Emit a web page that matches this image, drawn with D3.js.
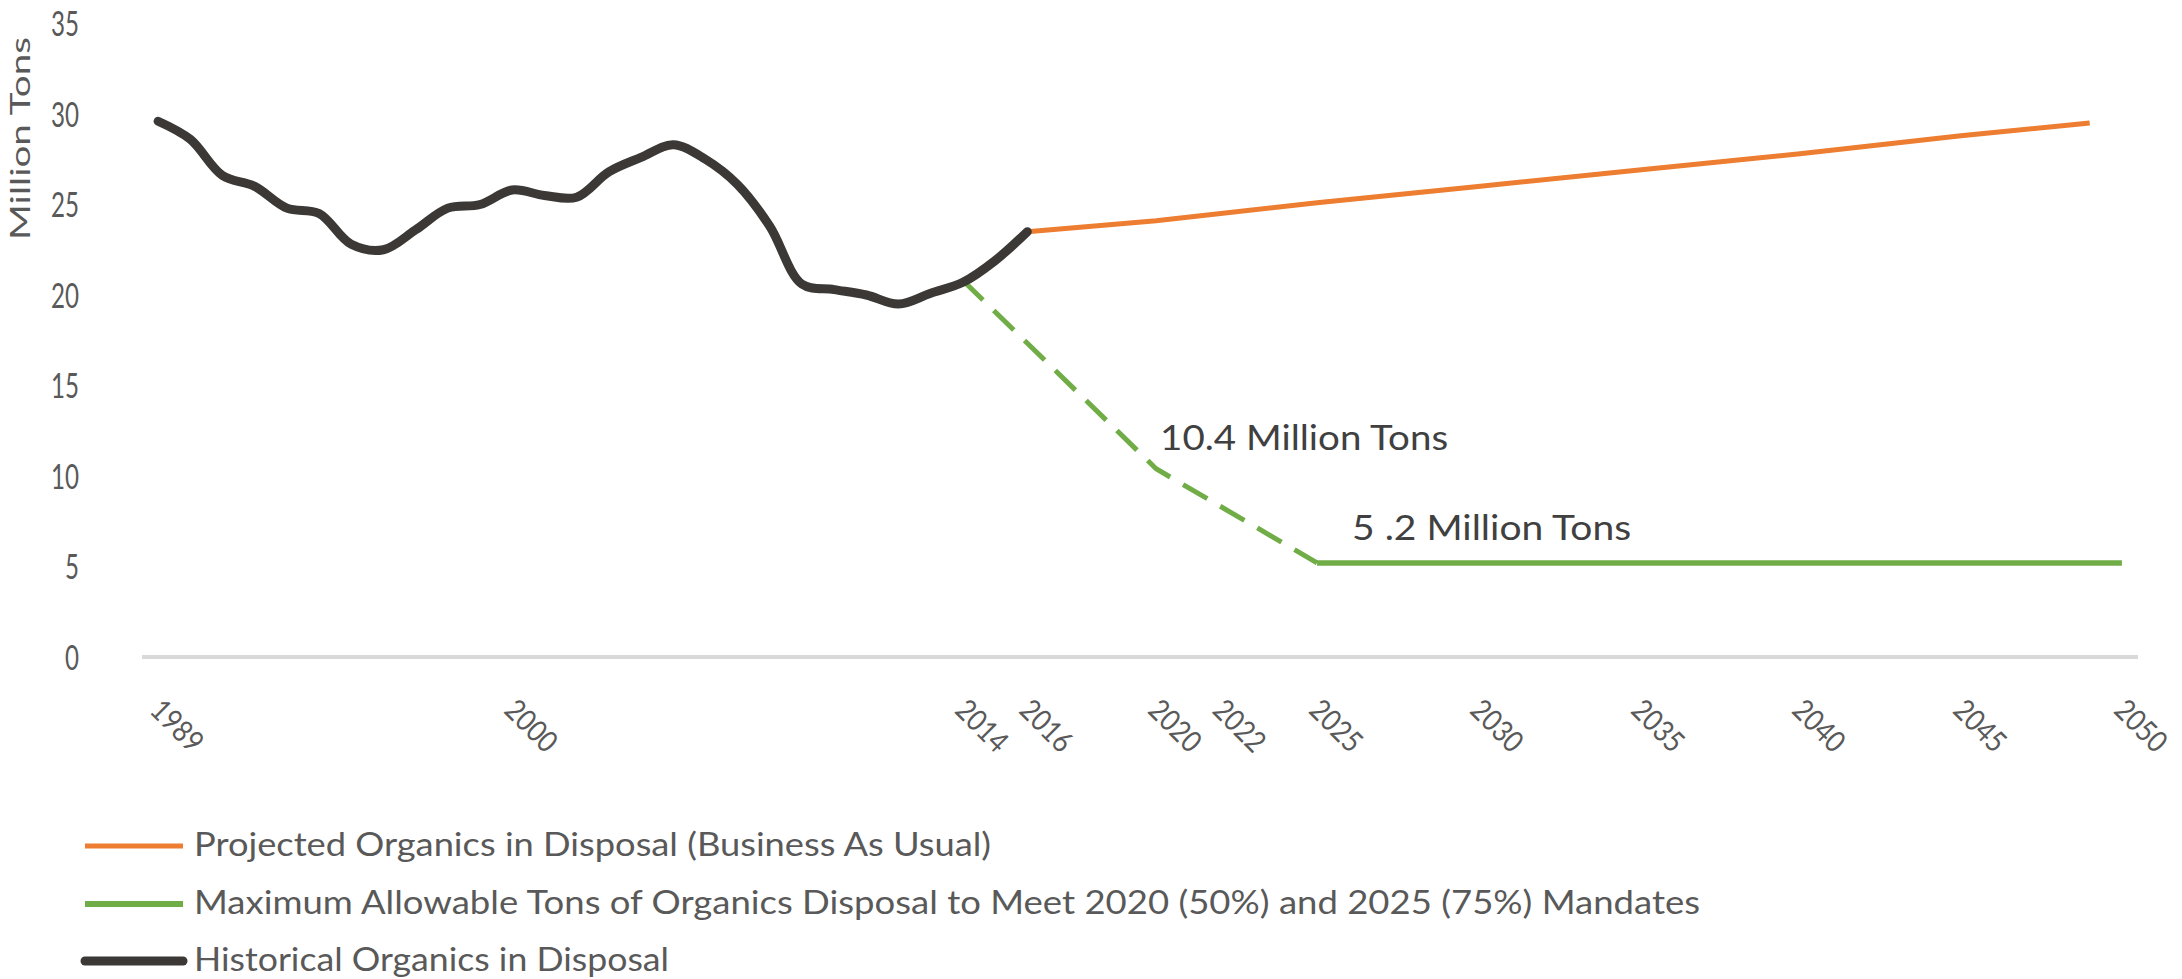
<!DOCTYPE html>
<html><head><meta charset="utf-8">
<script src="https://cdn.jsdelivr.net/npm/d3@7"></script>
<style>body{margin:0;background:#fff}svg{display:block;background:#fff}</style>
</head><body>
<svg id="chart" width="2182" height="979"></svg>
<script>
// ---- data ----
const years = d3.range(1989, 2051);
const xTickYears = [1989, 2000, 2014, 2016, 2020, 2022, 2025, 2030, 2035, 2040, 2045, 2050];
const yTicks = [0, 5, 10, 15, 20, 25, 30, 35];
const histYears = [1989,1990,1991,1992,1993,1994,1995,1996,1997,1998,1999,2000,2001,2002,2003,2004,2005,2006,2007,2008,2009,2010,2011,2012,2013,2014,2015,2016];
const histValues = [29.6,28.6,26.6,26.0,24.8,24.5,22.8,22.5,23.6,24.8,25.0,25.8,25.5,25.4,26.8,27.6,28.3,27.5,26.1,23.8,20.6,20.3,20.0,19.5,20.1,20.7,21.9,23.5];
const projYears = [2016, 2020, 2025, 2030, 2035, 2040, 2045, 2049];
const projValues = [23.5, 24.1, 25.1, 26.0, 26.9, 27.8, 28.8, 29.5];
const mandYears = [2014, 2020, 2025, 2050];
const mandValues = [20.8, 10.4, 5.2, 5.2];
const annoYears = [2020, 2025];
const annoValues = [10.4, 5.2];
const annoTexts = ["10.4 Million Tons", "5 .2 Million Tons"];
const legendLabels = [
  "Projected Organics in Disposal (Business As Usual)",
  "Maximum Allowable Tons of Organics Disposal to Meet 2020 (50%) and 2025 (75%) Mandates",
  "Historical Organics in Disposal"
];
const yTitle = "Million Tons";

// ---- styles ----
const FONT = "Lato, 'Open Sans', sans-serif";
const cOrange = "#ED7D31", cGreen = "#70AD47", cBlack = "#3B3836";
const cText = "#595959";

const svg = d3.select("#chart");
const x = d3.scalePoint().domain(years).range([142, 2138]).padding(0.5);
const y = d3.scaleLinear().domain([0, 35]).range([657, 23.5]);

// y axis
const gy = svg.append("g").attr("transform", "translate(79,0)")
  .call(d3.axisLeft(y).tickValues(yTicks).tickSize(0).tickPadding(0));
gy.select(".domain").remove();
gy.selectAll("text")
  .attr("x", 0).attr("dy", "0.36em")
  .attr("text-anchor", "end")
  .attr("font-family", FONT).attr("font-size", 34).attr("fill", cText)
  .attr("textLength", d => String(d).length * 14)
  .attr("lengthAdjust", "spacingAndGlyphs");

// y title
svg.append("text")
  .attr("transform", "translate(29.5,138.5) rotate(-90)")
  .attr("text-anchor", "middle")
  .attr("font-family", FONT).attr("font-size", 27).attr("fill", cText)
  .attr("textLength", 203).attr("lengthAdjust", "spacingAndGlyphs")
  .text(yTitle);

// x axis
const gx = svg.append("g").attr("transform", "translate(0,657)")
  .call(d3.axisBottom(x).tickValues(xTickYears).tickSize(0).tickPadding(0));
gx.select(".domain").remove();
gx.append("line").attr("x1", x.range()[0]).attr("x2", x.range()[1])
  .attr("y1", 0).attr("y2", 0).attr("stroke", "#D9D9D9").attr("stroke-width", 4);
gx.selectAll(".tick text")
  .attr("x", 0).attr("y", 0).attr("dy", 0)
  .attr("text-anchor", "start")
  .attr("transform", "translate(-10,55) rotate(45)")
  .attr("font-family", FONT).attr("font-size", 30).attr("fill", cText)
  .attr("textLength", 60).attr("lengthAdjust", "spacingAndGlyphs");

// series
const toPts = (ys, vs) => ys.map((yr, i) => ({year: yr, value: vs[i]}));
const lineStraight = d3.line().x(d => x(d.year)).y(d => y(d.value));
const lineSmooth = d3.line().x(d => x(d.year)).y(d => y(d.value)).curve(d3.curveCatmullRom.alpha(0.5));

svg.append("path").datum(toPts(projYears, projValues))
  .attr("d", lineStraight).attr("fill", "none")
  .attr("stroke", cOrange).attr("stroke-width", 5);

const mand = toPts(mandYears, mandValues);
svg.append("path").datum(mand.slice(0, 3))
  .attr("d", lineStraight).attr("fill", "none")
  .attr("stroke", cGreen).attr("stroke-width", 5).attr("stroke-dasharray", "28,15");
svg.append("path").datum(mand.slice(2))
  .attr("d", lineStraight).attr("fill", "none")
  .attr("stroke", cGreen).attr("stroke-width", 5.5);

svg.append("path").datum(toPts(histYears, histValues))
  .attr("d", lineSmooth).attr("fill", "none")
  .attr("stroke", cBlack).attr("stroke-width", 9)
  .attr("stroke-linejoin", "round").attr("stroke-linecap", "round");

// annotations
const annoOffsets = [[4, -19, 288], [35, -23, 279]];
annoTexts.forEach((t, i) => {
  svg.append("text")
    .attr("x", x(annoYears[i]) + annoOffsets[i][0])
    .attr("y", y(annoValues[i]) + annoOffsets[i][1])
    .attr("font-family", FONT).attr("font-size", 34).attr("fill", "#404040")
    .attr("textLength", annoOffsets[i][2]).attr("lengthAdjust", "spacingAndGlyphs")
    .text(t);
});

// legend
const legColors = [cOrange, cGreen, cBlack];
const legWidths = [5, 6, 9];
const legY = [846, 904, 961];
const legBase = [856, 914, 971];
const legLen = [797, 1506, 475];
legendLabels.forEach((lab, i) => {
  svg.append("line").attr("x1", 85).attr("x2", 183)
    .attr("y1", legY[i]).attr("y2", legY[i])
    .attr("stroke", legColors[i]).attr("stroke-width", legWidths[i])
    .attr("stroke-linecap", i === 2 ? "round" : "butt");
  svg.append("text").attr("x", 194).attr("y", legBase[i])
    .attr("font-family", FONT).attr("font-size", 32).attr("fill", cText)
    .attr("textLength", legLen[i]).attr("lengthAdjust", "spacingAndGlyphs")
    .text(lab);
});
</script>
</body></html>
